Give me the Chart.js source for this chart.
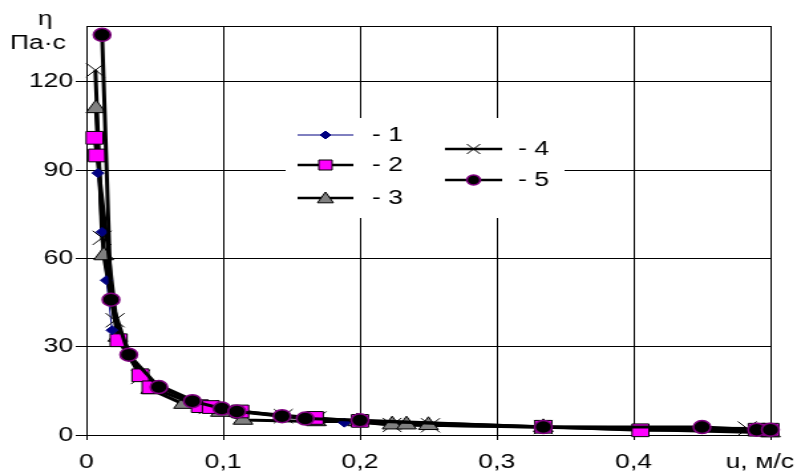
<!DOCTYPE html>
<html><head><meta charset="utf-8">
<script src="https://cdn.jsdelivr.net/npm/chart.js@4/dist/chart.umd.min.js"></script>
<style>
html,body{margin:0;padding:0;background:#fff;overflow:hidden;}
#wrap{width:600px;height:473px;transform:scaleX(1.328333);transform-origin:0 0;}
canvas{display:block;}
</style></head><body>
<div id="wrap"><canvas id="c" width="600" height="473" style="width:600px;height:473px"></canvas></div>
<script>
// ---- data ----
const xTicks = [0, 0.1, 0.2, 0.3, 0.4, 0.5];
const xTickLabels = ['0', '0,1', '0,2', '0,3', '0,4', ''];
const yTicks = [0, 30, 60, 90, 120];
const yTickLabels = ['0', '30', '60', '90', '120'];
const yTitle1 = 'η';
const yTitle2 = 'Па·с';
const xTitle = 'u, м/с';
const legendLabels = ['- 1', '- 2', '- 3', '- 4', '- 5'];

const s1x = [0.0085, 0.0115, 0.0146, 0.0188, 0.031, 0.053, 0.0775, 0.099, 0.143, 0.1886, 0.334, 0.49];
const s1y = [89, 69, 52.6, 35.6, 27.3, 16.3, 11.5, 9, 6.4, 4.2, 2.7, 1.8];

const s2x = [0.006, 0.0078, 0.0236, 0.0395, 0.047, 0.083, 0.091, 0.1125, 0.167, 0.2, 0.334, 0.405, 0.49, 0.5];
const s2y = [101, 95, 32.2, 20.3, 16.2, 9.8, 9.5, 8, 5.8, 4.8, 2.8, 1.6, 1.8, 1.8];

const s3x = [0.007, 0.0127, 0.023, 0.047, 0.071, 0.098, 0.1145, 0.168, 0.198, 0.2235, 0.234, 0.25, 0.334, 0.5];
const s3y = [111, 61, 33.3, 15.5, 10.5, 7.8, 5.1, 4.6, 4.6, 3.5, 3.5, 3.3, 2.6, 0.8];

const s4x = [0.0066, 0.0115, 0.021, 0.0395, 0.089, 0.144, 0.1686, 0.2235, 0.2515, 0.334, 0.483];
const s4y = [124, 67, 39, 19.7, 9.5, 6.4, 5.6, 3.4, 3.3, 2.7, 2.2];

const s5x = [0.0115, 0.018, 0.031, 0.053, 0.0775, 0.099, 0.11, 0.143, 0.16, 0.2, 0.334, 0.45, 0.49, 0.5];
const s5y = [136, 46, 27.3, 16.3, 11.5, 9, 8, 6.4, 5.6, 5, 2.7, 2.7, 1.8, 1.8];

const pts = (xs, ys) => xs.map((x, i) => ({x: x, y: ys[i]}));

const FONT = "'Liberation Sans', Arial, sans-serif";
Chart.defaults.font.family = FONT;
Chart.defaults.font.size = 20;
Chart.defaults.color = '#000';

function marker(ctx, type, x, y, r) {
  ctx.save();
  ctx.lineWidth = 1;
  ctx.beginPath();
  if (type === 'diamond') {
    ctx.fillStyle = '#000080'; ctx.strokeStyle = '#000080';
    ctx.moveTo(x, y - r); ctx.lineTo(x + r, y); ctx.lineTo(x, y + r); ctx.lineTo(x - r, y); ctx.closePath();
    ctx.fill(); ctx.stroke();
  } else if (type === 'square') {
    ctx.fillStyle = '#ff00ff'; ctx.strokeStyle = '#000';
    ctx.rect(x - r, y - r, 2 * r, 2 * r); ctx.fill(); ctx.stroke();
  } else if (type === 'triangle') {
    ctx.fillStyle = '#808080'; ctx.strokeStyle = '#000';
    ctx.moveTo(x, y - r); ctx.lineTo(x + r, y + r * 0.8); ctx.lineTo(x - r, y + r * 0.8); ctx.closePath();
    ctx.fill(); ctx.stroke();
  } else if (type === 'cross') {
    ctx.strokeStyle = '#000';
    ctx.moveTo(x - r, y - r); ctx.lineTo(x + r, y + r); ctx.moveTo(x + r, y - r); ctx.lineTo(x - r, y + r);
    ctx.stroke();
  } else if (type === 'circle') {
    ctx.fillStyle = '#000'; ctx.strokeStyle = '#800080'; ctx.lineWidth = 1.5;
    ctx.arc(x, y, r, 0, Math.PI * 2); ctx.fill(); ctx.stroke();
  }
  ctx.restore();
}

const decor = {
  id: 'decor',
  beforeDatasetsDraw(chart) {
    const ctx = chart.ctx, a = chart.chartArea;
    ctx.save();
    ctx.strokeStyle = '#000'; ctx.lineWidth = 1;
    ctx.strokeRect(Math.round(a.left) + 0.5, Math.round(a.top) + 0.5, Math.round(a.right - a.left), Math.round(a.bottom - a.top));
    ctx.restore();
  },
  afterDraw(chart) {
    const ctx = chart.ctx;
    ctx.save();
    // legend box
    ctx.fillStyle = '#fff';
    ctx.fillRect(215, 118, 210, 100);
    const items = [
      {x1: 224, x2: 266, tx: 280, y: 135, type: 'diamond', color: '#000080', lw: 1, r: 4},
      {x1: 224, x2: 266, tx: 280, y: 165, type: 'square', color: '#000', lw: 2.5, r: 5},
      {x1: 224, x2: 266, tx: 280, y: 198, type: 'triangle', color: '#000', lw: 2.5, r: 6},
      {x1: 335, x2: 378, tx: 390, y: 149, type: 'cross', color: '#000', lw: 2.5, r: 5},
      {x1: 335, x2: 378, tx: 390, y: 180, type: 'circle', color: '#000', lw: 2.5, r: 5}
    ];
    items.forEach((it, i) => {
      ctx.strokeStyle = it.color; ctx.lineWidth = it.lw;
      ctx.beginPath(); ctx.moveTo(it.x1, it.y); ctx.lineTo(it.x2, it.y); ctx.stroke();
      marker(ctx, it.type, (it.x1 + it.x2) / 2, it.y, it.r);
      ctx.fillStyle = '#000'; ctx.font = '20px ' + FONT;
      ctx.textAlign = 'left'; ctx.textBaseline = 'middle';
      ctx.fillText(legendLabels[i], it.tx, it.y);
    });
    // axis titles
    ctx.fillStyle = '#000'; ctx.font = '20px ' + FONT;
    ctx.textAlign = 'center'; ctx.textBaseline = 'middle';
    ctx.fillText(yTitle1, 34, 19);
    ctx.fillText(yTitle2, 28.5, 43);
    ctx.fillText(xTitle, 572, 462);
    ctx.restore();
  }
};

const common = {showLine: true, clip: false, tension: 0, borderWidth: 3, borderColor: '#000'};

new Chart(document.getElementById('c'), {
  type: 'scatter',
  data: {
    datasets: [
      Object.assign({}, common, {label: '5', data: pts(s5x, s5y), order: 0,
        pointStyle: 'circle', pointRadius: 6.5, pointHoverRadius: 6.5,
        pointBackgroundColor: '#000', pointBorderColor: '#800080', pointBorderWidth: 1.5}),
      Object.assign({}, common, {label: '1m', data: pts(s1x, s1y), order: 1, showLine: false,
        pointStyle: 'rectRot', pointRadius: 4.5, pointHoverRadius: 4.5,
        pointBackgroundColor: '#000080', pointBorderColor: '#000080', pointBorderWidth: 1}),
      Object.assign({}, common, {label: '2', data: pts(s2x, s2y), order: 2,
        pointStyle: 'rect', pointRadius: 9, pointHoverRadius: 9,
        pointBackgroundColor: '#ff00ff', pointBorderColor: '#000', pointBorderWidth: 1}),
      Object.assign({}, common, {label: '3', data: pts(s3x, s3y), order: 3,
        pointStyle: 'triangle', pointRadius: 8.5, pointHoverRadius: 8.5,
        pointBackgroundColor: '#808080', pointBorderColor: '#000', pointBorderWidth: 1}),
      Object.assign({}, common, {label: '4', data: pts(s4x, s4y), order: 4,
        pointStyle: 'crossRot', pointRadius: 10, pointHoverRadius: 10,
        pointBackgroundColor: '#000', pointBorderColor: '#000', pointBorderWidth: 1}),
      Object.assign({}, common, {label: '1', data: pts(s1x, s1y), order: 5,
        borderColor: '#000080', borderWidth: 1, pointRadius: 0, pointHoverRadius: 0})
    ]
  },
  options: {
    responsive: false,
    animation: false,
    events: [],
    layout: {padding: {top: 26, right: 20, left: 0, bottom: 0}},
    plugins: {legend: {display: false}, tooltip: {enabled: false}},
    scales: {
      x: {
        type: 'linear', min: 0, max: 0.5,
        afterBuildTicks: s => { s.ticks = xTicks.map(v => ({value: v})); },
        afterFit: s => { s.height = 38; },
        ticks: {callback: (v, i) => xTickLabels[i], padding: 10, maxRotation: 0, autoSkip: false, font: {size: 20}},
        grid: {color: '#000', lineWidth: 1, tickLength: 5, drawTicks: true},
        border: {display: true, color: '#000', width: 1}
      },
      y: {
        type: 'linear', min: 0, max: 139,
        afterBuildTicks: s => { s.ticks = yTicks.map(v => ({value: v})); },
        afterFit: s => { s.width = 65; },
        ticks: {callback: (v, i) => yTickLabels[i], padding: 2, autoSkip: false, font: {size: 20}},
        grid: {color: '#000', lineWidth: 1, tickLength: 8, drawTicks: true},
        border: {display: true, color: '#000', width: 1}
      }
    }
  },
  plugins: [decor]
});
</script>
</body></html>
